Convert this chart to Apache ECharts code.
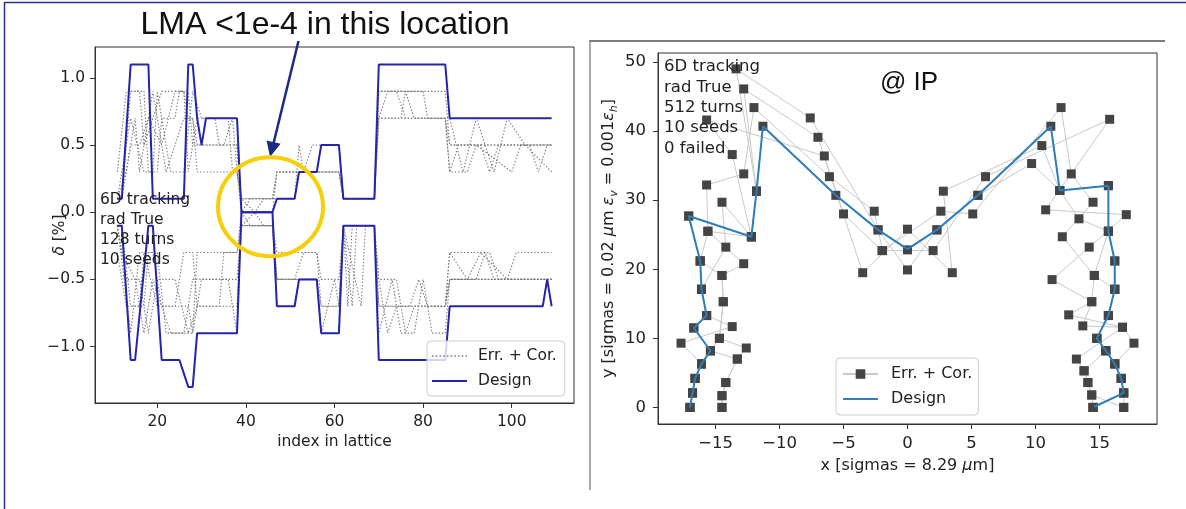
<!DOCTYPE html>
<html>
<head>
<meta charset="utf-8">
<script src="https://cdn.jsdelivr.net/npm/echarts@6/dist/echarts.min.js"></script>
<style>
  html, body { margin: 0; padding: 0; background: #fff; }
  #chart { width: 1186px; height: 509px; }
</style>
</head>
<body>
<div id="chart"></div>
<script>
// ---------- Left panel: local momentum acceptance along the lattice ----------
const lmaTicksX = [20, 40, 60, 80, 100];
const lmaTicksY = [-1, -0.5, 0, 0.5, 1];

// design lattice, positive / negative acceptance [index, delta %]
const designPos = [[11,0.1],[12,0.1],[14,1.1],[18,1.1],[19,0.1],[26,0.1],[27,1.1],[28,1.1],[29,0.7],[30,0.5],[31,0.7],[38,0.7],[39,0.0],[46,0.0],[47,0.1],[51,0.1],[52,0.3],[56,0.3],[57,0.5],[61,0.5],[62,0.1],[69,0.1],[70,1.1],[85,1.1],[86,0.7],[109,0.7]];
const designNeg = [[11,-0.1],[12,-0.1],[14,-1.1],[15,-1.1],[18,-0.1],[19,-0.1],[21,-1.1],[25,-1.1],[27,-1.3],[28,-1.3],[29,-0.9],[38,-0.9],[39,0.0],[46,0.0],[47,-0.7],[51,-0.7],[52,-0.5],[56,-0.5],[57,-0.9],[61,-0.9],[62,-0.1],[69,-0.1],[70,-1.1],[85,-1.1],[86,-0.7],[107,-0.7],[108,-0.5],[109,-0.7]];

// lattices with errors + corrections, one pair of curves per seed
const errPos1 = [[11,0.1],[12,0.1],[14,0.9],[17,0.9],[18,0.3],[20,0.3],[21,0.7],[24,0.7],[25,0.9],[27,0.9],[28,0.5],[38,0.5],[39,0.1],[42,0.0],[44,0.1],[46,0.1],[47,0.3],[56,0.3],[57,0.5],[61,0.5],[62,0.1],[69,0.1],[70,0.9],[85,0.9],[86,0.5],[109,0.5]];
const errNeg1 = [[11,-0.1],[12,-0.1],[14,-0.7],[17,-0.7],[18,-0.3],[20,-0.3],[22,-0.9],[28,-0.9],[29,-0.3],[38,-0.3],[39,-0.1],[46,-0.1],[47,-0.5],[56,-0.5],[57,-0.7],[61,-0.7],[62,-0.1],[64,-0.7],[65,-0.1],[69,-0.1],[70,-0.7],[85,-0.7],[86,-0.5],[109,-0.5]];
const errPos2 = [[11,0.1],[13,0.3],[15,0.7],[16,0.3],[19,0.9],[22,0.3],[26,0.7],[28,0.7],[29,0.3],[38,0.3],[39,0.0],[41,0.1],[47,0.1],[51,0.1],[52,0.3],[61,0.3],[62,0.1],[69,0.1],[70,0.7],[75,0.7],[76,0.9],[78,0.7],[85,0.7],[86,0.3],[90,0.3],[92,0.5],[100,0.3],[102,0.5],[109,0.5]];
const errNeg2 = [[11,-0.1],[13,-0.5],[16,-0.5],[18,-0.9],[20,-0.5],[24,-0.5],[27,-0.9],[29,-0.7],[38,-0.7],[39,0.0],[41,-0.1],[46,-0.1],[47,-0.3],[56,-0.3],[57,-0.5],[61,-0.5],[62,-0.1],[69,-0.1],[70,-0.5],[74,-0.5],[76,-0.9],[78,-0.7],[85,-0.7],[86,-0.3],[95,-0.3],[97,-0.5],[109,-0.5]];
const errPos3 = [[11,0.3],[13,0.9],[16,0.9],[17,0.5],[19,0.7],[21,0.9],[26,0.9],[27,0.3],[29,0.7],[36,0.7],[37,0.3],[38,0.3],[39,0.1],[47,0.1],[51,0.1],[52,0.5],[53,0.3],[61,0.3],[62,0.1],[69,0.1],[70,0.7],[72,0.9],[80,0.9],[81,0.7],[85,0.7],[86,0.5],[93,0.5],[95,0.3],[97,0.5],[109,0.5]];
const errNeg3 = [[11,-0.3],[13,-0.7],[16,-0.7],[17,-0.3],[20,-0.7],[27,-0.7],[28,-0.9],[30,-0.5],[38,-0.5],[39,-0.1],[42,0.0],[44,-0.1],[46,-0.1],[47,-0.7],[51,-0.7],[52,-0.5],[56,-0.5],[57,-0.9],[61,-0.9],[62,-0.1],[66,-0.7],[67,-0.1],[69,-0.1],[70,-0.9],[73,-0.5],[75,-0.9],[78,-0.9],[80,-0.5],[82,-0.9],[85,-0.9],[86,-0.5],[109,-0.5]];
const errPos4 = [[11,0.1],[14,0.7],[17,0.3],[19,0.3],[20,0.9],[23,0.3],[26,0.3],[28,0.9],[30,0.7],[33,0.7],[34,0.5],[38,0.5],[39,0.0],[46,0.0],[47,0.3],[53,0.3],[55,0.5],[61,0.5],[62,0.1],[69,0.1],[70,0.9],[74,0.9],[76,0.7],[85,0.7],[86,0.3],[88,0.5],[104,0.5],[106,0.3],[108,0.5],[109,0.5]];
const errNeg4 = [[11,-0.1],[14,-0.9],[16,-0.3],[19,-0.3],[21,-0.7],[24,-0.7],[26,-0.3],[28,-0.3],[29,-0.7],[34,-0.7],[35,-0.3],[38,-0.3],[39,0.0],[46,0.0],[47,-0.5],[51,-0.5],[53,-0.3],[56,-0.3],[57,-0.7],[61,-0.7],[62,-0.1],[69,-0.1],[70,-0.7],[77,-0.7],[79,-0.5],[81,-0.7],[85,-0.7],[86,-0.5],[92,-0.5],[94,-0.3],[96,-0.5],[109,-0.5]];
const errPos5 = [[11,0.1],[12,0.1],[14,0.5],[16,0.5],[18,0.7],[21,0.5],[24,0.9],[26,0.9],[27,0.7],[28,0.7],[29,0.5],[35,0.5],[37,0.7],[38,0.3],[39,0.1],[46,0.1],[47,0.3],[61,0.3],[62,0.1],[69,0.1],[70,0.7],[86,0.7],[89,0.3],[92,0.7],[96,0.3],[99,0.7],[103,0.5],[109,0.3]];
const errNeg5 = [[11,-0.1],[12,-0.3],[15,-0.5],[17,-0.9],[19,-0.5],[23,-0.9],[26,-0.9],[28,-0.5],[36,-0.5],[38,-0.9],[39,-0.1],[46,-0.1],[47,-0.5],[56,-0.5],[57,-0.9],[60,-0.5],[61,-0.7],[62,-0.1],[63,-0.7],[64,-0.1],[69,-0.1],[70,-0.5],[72,-0.9],[74,-0.7],[85,-0.7],[86,-0.3],[90,-0.5],[93,-0.3],[99,-0.5],[101,-0.3],[109,-0.3]];

// ---------- Right panel: dynamic aperture at the IP ----------
const daTicksX = [-15, -10, -5, 0, 5, 10, 15];
const daTicksY = [0, 10, 20, 30, 40, 50];

const daDesign = [[-17.0,0.0],[-16.8,2.1],[-16.6,4.2],[-16.1,6.3],[-15.4,8.2],[-16.7,11.5],[-15.7,13.3],[-16.1,17.1],[-16.2,21.2],[-17.1,27.7],[-12.2,24.7],[-11.8,31.3],[-11.3,40.7],[-5.6,30.7],[-2.3,25.7],[0.0,22.9],[2.3,25.7],[5.5,30.7],[11.2,40.7],[11.9,31.4],[15.7,32.1],[15.7,25.5],[16.2,21.2],[16.2,17.1],[15.7,13.3],[14.8,10.0],[15.5,8.2],[16.2,6.3],[16.7,4.2],[16.9,2.1],[14.6,0.1]];

const daSeedA = [[-17.0,0.0],[-16.8,2.1],[-16.6,4.2],[-16.1,6.3],[-15.4,8.2],[-16.7,11.5],[-15.7,13.3],[-16.1,17.1],[-16.2,21.2],[-17.1,27.7],[-12.2,24.7],[-11.8,31.3],[-11.3,40.7],[-5.6,30.7],[-2.3,25.7],[0.0,22.8],[2.3,25.7],[5.5,30.7],[11.2,40.7],[11.9,31.4],[15.7,32.1],[15.7,25.5],[16.2,21.2],[16.2,17.1],[15.7,13.3],[14.8,10.0],[15.5,8.2],[16.2,6.3],[16.7,4.2],[16.9,2.1],[14.5,0.0]];
const daSeedB = [[-14.5,0.0],[-14.5,1.7],[-14.2,3.6],[-13.3,7.0],[-12.6,8.6],[-14.7,10.0],[-14.4,15.3],[-14.5,19.1],[-12.8,20.8],[-15.6,25.5],[-15.7,32.2],[-12.8,33.8],[-12.0,43.4],[-6.1,33.4],[-2.6,28.4],[-1.95,22.7],[2.6,28.4],[5.1,28.0],[12.0,43.4],[12.8,33.8],[14.5,29.7],[12.1,24.7],[14.6,19.1],[14.4,15.3],[12.6,13.4],[16.8,11.6],[13.2,7.0],[13.8,5.3],[14.1,3.6],[14.4,1.8],[16.9,0.0]];
const daSeedC = [[-17.0,0.0],[-16.8,2.1],[-16.6,4.2],[-16.1,6.3],[-17.7,9.3],[-13.7,11.7],[-15.7,13.3],[-16.1,17.1],[-14.2,23.2],[-14.5,29.7],[-12.2,24.7],[-13.7,36.6],[-15.7,41.6],[-6.5,36.4],[-5.0,28.0],[-2.0,22.7],[2.0,22.7],[6.1,33.4],[15.8,41.7],[10.8,28.6],[17.1,27.9],[14.2,23.2],[11.3,18.5],[14.4,15.3],[13.7,11.8],[16.8,11.6],[17.7,9.3],[16.2,6.3],[16.7,4.2],[16.9,2.1],[16.9,0.0]];
const daSeedD = [[-14.5,0.0],[-14.5,1.7],[-14.2,3.6],[-13.3,7.0],[-15.4,8.2],[-14.7,10.0],[-14.4,15.3],[-14.5,19.1],[-16.2,21.2],[-15.6,25.5],[-12.2,24.7],[-11.8,31.3],[-12.8,46.1],[-7.0,39.1],[-3.5,19.5],[0.0,25.8],[3.5,19.5],[2.8,31.3],[10.5,37.9],[11.9,31.4],[13.4,27.3],[15.7,25.5],[14.6,19.1],[16.2,17.1],[15.7,13.3],[14.8,10.0],[15.5,8.2],[13.8,5.3],[14.1,3.6],[14.4,1.8],[14.5,0.0]];
const daSeedE = [[-17.0,0.0],[-16.8,2.1],[-16.6,4.2],[-16.1,6.3],[-15.4,8.2],[-16.7,11.5],[-15.7,13.3],[-16.1,17.1],[-16.2,21.2],[-17.1,27.7],[-12.2,24.7],[-11.8,31.3],[-13.4,49.0],[-7.6,41.9],[-2.3,25.7],[0.0,19.9],[2.3,25.7],[5.5,30.7],[9.7,35.3],[11.9,31.4],[15.7,32.1],[15.7,25.5],[16.2,21.2],[16.2,17.1],[15.7,13.3],[14.8,10.0],[15.5,8.2],[16.2,6.3],[16.7,4.2],[16.9,2.1],[14.5,0.0]];

// ---------- styles ----------
const FONT = '"DejaVu Sans", sans-serif';
const INK = '#222';
const AXIS = '#333';
const lmaBlue = '#2424ac';
const lmaGrey = '#7a7a7a';
const daBlue = '#2f7db9';

function fmtSigned(v, digits) {
  const s = Math.abs(v).toFixed(digits);
  return v < 0 ? '\u2212' + s : s;
}

// small dotted bar used as a legend key for the dotted curves
let dotIcon = 'path://';
for (let i = 0; i < 10; i++) {
  const x = i * 3.6;
  dotIcon += 'M' + x + ',0h1.5v1.5h-1.5z';
}
const barIcon = 'path://M0,0H36V2.2H0Z';

const errPos = [errPos1, errPos2, errPos3, errPos4, errPos5];
const errNeg = [errNeg1, errNeg2, errNeg3, errNeg4, errNeg5];
const daSeeds = [daSeedA, daSeedB, daSeedC, daSeedD, daSeedE];

const series = [];
errPos.concat(errNeg).forEach(function (d) {
  series.push({
    type: 'line', name: 'errL', xAxisIndex: 0, yAxisIndex: 0, data: d,
    symbol: 'none', silent: true, z: 2,
    itemStyle: { color: lmaGrey },
    lineStyle: { color: lmaGrey, width: 1.1, type: [1.4, 1.9] }
  });
});
[designPos, designNeg].forEach(function (d) {
  series.push({
    type: 'line', name: 'designL', xAxisIndex: 0, yAxisIndex: 0, data: d,
    symbol: 'none', silent: true, z: 3,
    itemStyle: { color: lmaBlue },
    lineStyle: { color: lmaBlue, width: 2 }
  });
});
daSeeds.forEach(function (d) {
  series.push({
    type: 'line', name: 'errR', xAxisIndex: 1, yAxisIndex: 1, data: d,
    symbol: 'rect', symbolSize: 9, silent: true, z: 2,
    itemStyle: { color: '#444' },
    lineStyle: { color: '#c9c9c9', width: 1 }
  });
});
series.push({
  type: 'line', name: 'designR', xAxisIndex: 1, yAxisIndex: 1, data: daDesign,
  symbol: 'none', silent: true, z: 4,
  itemStyle: { color: daBlue },
  lineStyle: { color: daBlue, width: 2 }
});

const legendNames = { errL: 'Err. + Cor.', designL: 'Design', errR: 'Err. + Cor.', designR: 'Design' };

function valueAxis(opts) {
  return Object.assign({
    type: 'value',
    splitLine: { show: false },
    axisLine: { show: true, onZero: false, lineStyle: { color: AXIS, width: 1 } },
    nameLocation: 'middle',
    nameMoveOverlap: false
  }, opts);
}

const chart = echarts.init(document.getElementById('chart'), null, { renderer: 'canvas' });
chart.setOption({
  animation: false,
  backgroundColor: '#fff',
  textStyle: { fontFamily: FONT },
  grid: [
    { left: 95, top: 47, width: 479, height: 356, show: true, borderColor: AXIS, borderWidth: 1, containLabel: false, outerBoundsMode: 'none' },
    { left: 658, top: 53, width: 499, height: 371, show: true, borderColor: AXIS, borderWidth: 1, containLabel: false, outerBoundsMode: 'none' }
  ],
  xAxis: [
    valueAxis({
      gridIndex: 0, min: 5.95, max: 114.05,
      axisLabel: { customValues: lmaTicksX, color: INK, fontFamily: FONT, fontSize: 15.5, margin: 11 },
      axisTick: { customValues: lmaTicksX, show: true, inside: false, length: 5, lineStyle: { color: AXIS } },
      name: 'index in lattice', nameGap: 31,
      nameTextStyle: { color: INK, fontFamily: FONT, fontSize: 15.5 }
    }),
    valueAxis({
      gridIndex: 1, min: -19.5, max: 19.5,
      axisLabel: { customValues: daTicksX, color: INK, fontFamily: FONT, fontSize: 16.5, margin: 11,
        formatter: function (v) { return fmtSigned(v, 0); } },
      axisTick: { customValues: daTicksX, show: true, inside: false, length: 5, lineStyle: { color: AXIS } },
      name: '{n|x [sigmas = 8.29 }{i|\u03bc}{n|m]}', nameGap: 34,
      nameTextStyle: { color: INK, fontFamily: FONT, fontSize: 16,
        rich: { n: { fontSize: 16, color: INK, fontFamily: FONT }, i: { fontSize: 16, color: INK, fontFamily: FONT, fontStyle: 'italic' } } }
    })
  ],
  yAxis: [
    valueAxis({
      gridIndex: 0, min: -1.42, max: 1.23,
      axisLabel: { customValues: lmaTicksY, color: INK, fontFamily: FONT, fontSize: 15.5, margin: 10,
        formatter: function (v) { return fmtSigned(v, 1); } },
      axisTick: { customValues: lmaTicksY, show: true, inside: false, length: 5, lineStyle: { color: AXIS } }
    }),
    valueAxis({
      gridIndex: 1, min: -2.4, max: 51.3,
      axisLabel: { customValues: daTicksY, color: INK, fontFamily: FONT, fontSize: 16.5, margin: 12 },
      axisTick: { customValues: daTicksY, show: true, inside: false, length: 5, lineStyle: { color: AXIS } },
      name: '{n|y [sigmas = 0.02 }{i|\u03bc}{n|m }{i|\u03b5}{s|v}{n| = 0.001}{i|\u03b5}{s|h}{n|]}', nameGap: 38,
      nameTextStyle: { color: INK, fontFamily: FONT, fontSize: 16,
        rich: {
          n: { fontSize: 16, color: INK, fontFamily: FONT },
          i: { fontSize: 16, color: INK, fontFamily: FONT, fontStyle: 'italic' },
          s: { fontSize: 11, color: INK, fontFamily: FONT, fontStyle: 'italic', verticalAlign: 'bottom', lineHeight: 22 }
        } }
    })
  ],
  legend: [
    {
      data: [{ name: 'errL', icon: dotIcon }, { name: 'designL', icon: barIcon }],
      formatter: function (n) { return legendNames[n]; },
      selectedMode: false, orient: 'vertical', left: 427, top: 341,
      itemWidth: 35, itemHeight: 14, itemGap: 9, padding: [7, 8, 7, 5],
      backgroundColor: 'rgba(255,255,255,0.8)', borderColor: '#cccccc', borderWidth: 1, borderRadius: 4,
      itemStyle: { borderWidth: 0 },
      textStyle: { color: INK, fontFamily: FONT, fontSize: 15.5, padding: [0, 0, 0, 6] }
    },
    {
      data: [{ name: 'errR' }, { name: 'designR', icon: barIcon }],
      formatter: function (n) { return legendNames[n]; },
      selectedMode: false, orient: 'vertical', left: 836, top: 358,
      itemWidth: 35, itemHeight: 12, itemGap: 9, padding: [8, 6, 8, 6],
      backgroundColor: 'rgba(255,255,255,0.8)', borderColor: '#cccccc', borderWidth: 1, borderRadius: 4,
      textStyle: { color: INK, fontFamily: FONT, fontSize: 16, padding: [0, 0, 0, 8] }
    }
  ],
  series: series,
  graphic: [
    // slide frame
    { type: 'line', silent: true, shape: { x1: 4, y1: 2.5, x2: 1186, y2: 2.5 }, style: { stroke: '#27318a', lineWidth: 1.5 } },
    { type: 'line', silent: true, shape: { x1: 4.5, y1: 2, x2: 4.5, y2: 509 }, style: { stroke: '#27318a', lineWidth: 1.5 } },
    // frame around the right-hand figure
    { type: 'line', silent: true, shape: { x1: 589, y1: 41, x2: 1165, y2: 41 }, style: { stroke: '#7a7a7a', lineWidth: 2 } },
    { type: 'line', silent: true, shape: { x1: 590, y1: 40, x2: 590, y2: 490 }, style: { stroke: '#8c8c8c', lineWidth: 1.5 } },
    // y label of the left panel
    { type: 'text', silent: true, x: 60, y: 235, rotation: Math.PI / 2, z: 10,
      style: { text: '{i|\u03b4}{n| [%]}', fill: INK, textAlign: 'center', textVerticalAlign: 'middle', align: 'center', verticalAlign: 'middle',
        rich: { n: { fontSize: 15.5, fill: INK, fontFamily: FONT }, i: { fontSize: 15.5, fill: INK, fontFamily: FONT, fontStyle: 'italic' } } } },
    // headline and pointer
    { type: 'text', silent: true, x: 325, y: 25, z: 10,
      style: { text: 'LMA <1e-4 in this location', font: '32px "Liberation Sans", Arial, sans-serif', fill: '#111',
        textAlign: 'center', textVerticalAlign: 'middle', align: 'center', verticalAlign: 'middle' } },
    { type: 'line', silent: true, z: 10, shape: { x1: 298.5, y1: 41, x2: 273.6, y2: 143 }, style: { stroke: '#1b2a82', lineWidth: 2.5 } },
    { type: 'polygon', silent: true, z: 10, shape: { points: [[270, 157], [280.6, 143.8], [266.6, 140.4]] }, style: { fill: '#1b2a82' } },
    { type: 'ellipse', silent: true, z: 10, shape: { cx: 270.5, cy: 206.7, rx: 52.5, ry: 49.5 }, style: { fill: 'none', stroke: '#f8cf06', lineWidth: 4 } },
    // run settings
    { type: 'text', silent: true, x: 100, y: 190, z: 10,
      style: { text: '6D tracking\nrad True\n128 turns\n10 seeds', font: '15.5px "DejaVu Sans", sans-serif', fill: INK, lineHeight: 20,
        textVerticalAlign: 'top', verticalAlign: 'top' } },
    { type: 'text', silent: true, x: 664, y: 57, z: 10,
      style: { text: '6D tracking\nrad True\n512 turns\n10 seeds\n0 failed', font: '16.5px "DejaVu Sans", sans-serif', fill: INK, lineHeight: 20.3,
        textVerticalAlign: 'top', verticalAlign: 'top' } },
    { type: 'text', silent: true, x: 880, y: 82.5, z: 10,
      style: { text: '@ IP', font: '26px "Liberation Sans", Arial, sans-serif', fill: '#111',
        textVerticalAlign: 'middle', verticalAlign: 'middle' } }
  ]
});
</script>
</body>
</html>
